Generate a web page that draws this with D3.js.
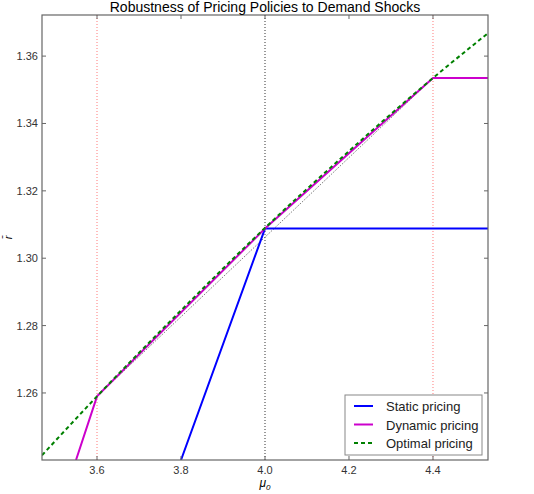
<!DOCTYPE html>
<html><head><meta charset="utf-8">
<script src="https://cdn.jsdelivr.net/npm/d3@7"></script>
<style>body{margin:0;background:#fff}text{font-family:"Liberation Sans",Arial,sans-serif}</style>
</head><body><svg id="c" width="534" height="494"></svg>
<script>
// values
const optimalX = [3.469, 3.6, 3.8, 4.0, 4.2, 4.4, 4.531]
const optimalY = [1.2415, 1.259, 1.2845, 1.309, 1.3318, 1.3535, 1.3668]
const dynamicX = [3.55, 3.6, 4.0, 4.4, 4.531]
const dynamicY = [1.2401, 1.259, 1.3088, 1.3535, 1.3535]
const staticX = [3.8, 4.0, 4.531]
const staticY = [1.2401, 1.3088, 1.3088]
const chordX = [3.6, 4.4]
const chordY = [1.259, 1.3535]
const xTicks = [3.6, 3.8, 4.0, 4.2, 4.4]
const yTicks = [1.26, 1.28, 1.30, 1.32, 1.34, 1.36]
const redLines = [3.6, 4.4]
const blackLines = [4.0]

const m = { l: 42, t: 15, r: 488, b: 460 }
const svg = d3.select('#c')
const x = d3.scaleLinear().domain([3.469, 4.531]).range([m.l, m.r])
const y = d3.scaleLinear().domain([1.2401, 1.3722]).range([m.b, m.t])

svg.append('defs').append('clipPath').attr('id', 'clip')
  .append('rect').attr('x', m.l).attr('y', m.t).attr('width', m.r - m.l).attr('height', m.b - m.t)
const g = svg.append('g').attr('clip-path', 'url(#clip)')

redLines.forEach(v => g.append('line').attr('x1', x(v)).attr('x2', x(v)).attr('y1', m.t).attr('y2', m.b)
  .attr('stroke', '#f44').attr('stroke-width', 1).attr('stroke-dasharray', '1,2').attr('opacity', 0.7))
blackLines.forEach(v => g.append('line').attr('x1', x(v)).attr('x2', x(v)).attr('y1', m.t).attr('y2', m.b)
  .attr('stroke', '#333').attr('stroke-width', 1).attr('stroke-dasharray', '1,2'))

const line = d3.line()
const pts = (xs, ys) => xs.map((v, i) => [x(v), y(ys[i])])

g.append('path').attr('d', line(pts(chordX, chordY))).attr('fill', 'none')
  .attr('stroke', '#555').attr('stroke-width', 1).attr('stroke-dasharray', '1,1.5')
g.append('path').attr('d', line(pts(staticX, staticY))).attr('fill', 'none').attr('stroke', '#0000ff').attr('stroke-width', 2)
g.append('path').attr('d', line(pts(dynamicX, dynamicY))).attr('fill', 'none').attr('stroke', '#cc00cc').attr('stroke-width', 2)
g.append('path').attr('d', d3.line().curve(d3.curveMonotoneX)(pts(optimalX, optimalY))).attr('fill', 'none')
  .attr('stroke', '#008000').attr('stroke-width', 2).attr('stroke-dasharray', '4,3')

// frame and ticks
svg.append('rect').attr('x', m.l).attr('y', m.t).attr('width', m.r - m.l).attr('height', m.b - m.t)
  .attr('fill', 'none').attr('stroke', '#666').attr('stroke-width', 1.2)
xTicks.forEach(v => {
  svg.append('line').attr('x1', x(v)).attr('x2', x(v)).attr('y1', m.b).attr('y2', m.b - 4).attr('stroke', '#666')
  svg.append('line').attr('x1', x(v)).attr('x2', x(v)).attr('y1', m.t).attr('y2', m.t + 4).attr('stroke', '#666')
  svg.append('text').attr('x', x(v)).attr('y', m.b + 14).attr('text-anchor', 'middle')
    .attr('font-size', 11).attr('fill', '#333').text(v.toFixed(1))
})
yTicks.forEach(v => {
  svg.append('line').attr('x1', m.l).attr('x2', m.l + 4).attr('y1', y(v)).attr('y2', y(v)).attr('stroke', '#666')
  svg.append('line').attr('x1', m.r).attr('x2', m.r - 4).attr('y1', y(v)).attr('y2', y(v)).attr('stroke', '#666')
  svg.append('text').attr('x', m.l - 4).attr('y', y(v) + 4).attr('text-anchor', 'end')
    .attr('font-size', 11).attr('fill', '#333').text(v.toFixed(2))
})

svg.append('text').attr('x', (m.l + m.r) / 2).attr('y', 12).attr('text-anchor', 'middle')
  .attr('font-size', 14).text('Robustness of Pricing Policies to Demand Shocks')
svg.append('text').attr('x', (m.l + m.r) / 2).attr('y', 487).attr('text-anchor', 'middle')
  .attr('font-size', 12).attr('font-style', 'italic').html('μ<tspan font-size="8" dy="3">0</tspan>')
svg.append('text').attr('transform', `translate(12,${(m.t + m.b) / 2}) rotate(-90)`).attr('text-anchor', 'middle')
  .attr('font-size', 11).attr('font-style', 'italic').text('r̄')

// legend
const legend = [['Static pricing', '#0000ff', null], ['Dynamic pricing', '#cc00cc', null], ['Optimal pricing', '#008000', '4,3']]
const lg = svg.append('g').attr('transform', 'translate(345,395)')
lg.append('rect').attr('width', 137).attr('height', 60).attr('fill', '#fff').attr('stroke', '#888')
legend.forEach(([name, col, dash], i) => {
  const yy = 11 + i * 18.5
  lg.append('line').attr('x1', 9).attr('x2', 28).attr('y1', yy).attr('y2', yy)
    .attr('stroke', col).attr('stroke-width', 2).attr('stroke-dasharray', dash)
  lg.append('text').attr('x', 41).attr('y', yy + 5).attr('font-size', 13).attr('fill', '#222').text(name)
})
</script></body></html>
